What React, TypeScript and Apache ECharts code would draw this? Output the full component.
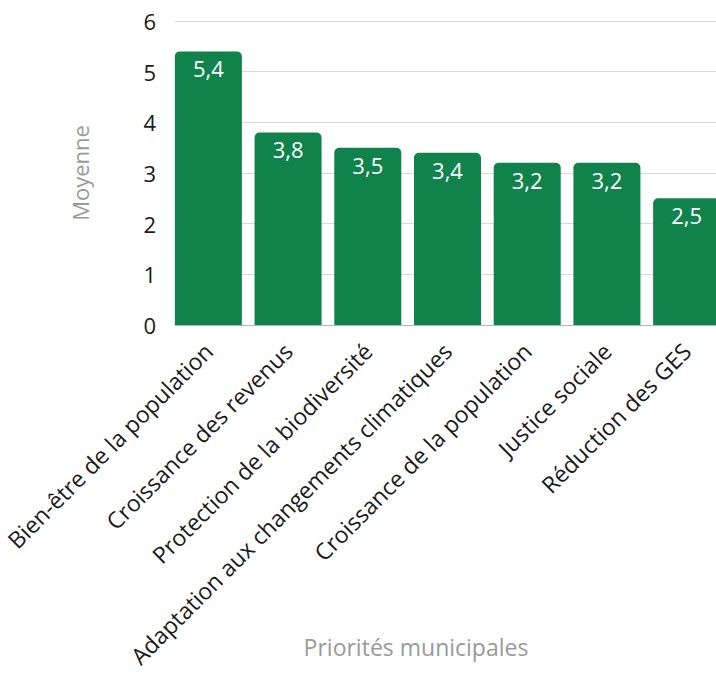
import React, { useEffect, useRef } from "react";
import * as echarts from "echarts";

const categories = [
  "Bien-être de la population",
  "Croissance des revenus",
  "Protection de la biodiversité",
  "Adaptation aux changements climatiques",
  "Croissance de la population",
  "Justice sociale",
  "Réduction des GES",
];
const values = [5.4, 3.8, 3.5, 3.4, 3.2, 3.2, 2.5];
const yTicks = [0, 1, 2, 3, 4, 5, 6];
const xAxisName = "Priorités municipales";
const yAxisName = "Moyenne";

const FONT = "'Open Sans', sans-serif";
const GREEN = "#10824c";

export default function App() {
  const ref = useRef<HTMLDivElement>(null);
  useEffect(() => {
    if (!ref.current) return;
    const chart = echarts.init(ref.current, undefined, { renderer: "svg" });
    const yMin = yTicks[0];
    const yMax = yTicks[yTicks.length - 1];
    chart.setOption({
      animation: false,
      backgroundColor: "#ffffff",
      textStyle: { fontFamily: FONT },
      grid: [
        { left: 175, right: 0, top: 21, bottom: 356, containLabel: false, outerBoundsMode: "none" },
        { left: 168.5, width: 558, top: 21, bottom: 356, containLabel: false, outerBoundsMode: "none" },
      ],
      xAxis: [
        {
          gridIndex: 0,
          type: "category",
          data: categories,
          axisLine: { show: true, lineStyle: { color: "#b5b5b5", width: 1 } },
          axisTick: { show: false },
          axisLabel: { show: false },
          splitLine: { show: false },
        },
        {
          gridIndex: 1,
          type: "category",
          data: categories,
          axisLine: { show: false },
          axisTick: { show: false },
          axisLabel: {
            rotate: 45,
            interval: 0,
            margin: 22,
            padding: [14, 0, 0, 0],
            fontSize: 23,
            color: "#1a1a1a",
            fontFamily: FONT,
          },
          name: xAxisName,
          nameLocation: "middle",
          nameGap: 310,
          nameMoveOverlap: false,
          nameTextStyle: {
            fontSize: 23,
            color: "#9a9a9a",
            fontFamily: FONT,
            padding: [0, 63, 0, 0],
          },
        },
      ],
      yAxis: [
        {
          gridIndex: 0,
          type: "value",
          min: yMin,
          max: yMax,
          interval: 1,
          axisLine: { show: false },
          axisTick: { show: false },
          axisLabel: {
            fontSize: 22,
            color: "#1a1a1a",
            margin: 19,
            fontFamily: FONT,
          },
          splitLine: { show: true, lineStyle: { color: "#d9d9d9", width: 1 } },
          name: yAxisName,
          nameLocation: "middle",
          nameGap: 84,
          nameRotate: 90,
          nameMoveOverlap: false,
          nameTextStyle: { fontSize: 22, color: "#9a9a9a", fontFamily: FONT },
        },
        {
          gridIndex: 1,
          type: "value",
          min: yMin,
          max: yMax,
          interval: 1,
          show: false,
          splitLine: { show: false },
        },
      ],
      series: [
        {
          type: "bar",
          xAxisIndex: 1,
          yAxisIndex: 1,
          data: values,
          barWidth: 67,
          itemStyle: { color: GREEN, borderRadius: [5, 5, 0, 0] },
          label: {
            show: true,
            position: "insideTop",
            distance: 6,
            color: "#ffffff",
            fontSize: 22,
            fontFamily: FONT,
            formatter: (p: any) => Number(p.value).toFixed(1).replace(".", ","),
          },
        },
      ],
    });
    return () => chart.dispose();
  }, []);
  return (
    <div
      ref={ref}
      style={{ position: "fixed", left: 0, top: 0, width: 716, height: 681 }}
    />
  );
}
